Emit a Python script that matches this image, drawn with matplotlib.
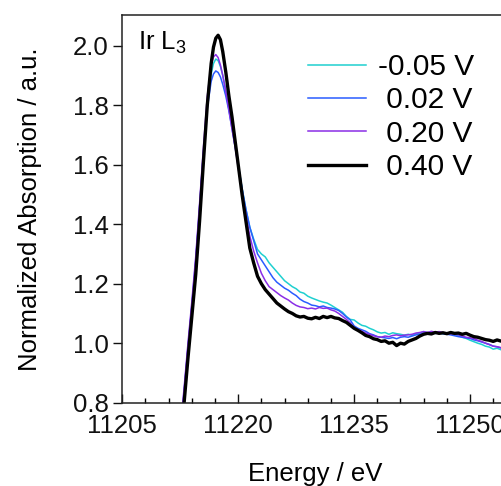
import matplotlib
matplotlib.use("Agg")
import matplotlib.pyplot as plt
from matplotlib.ticker import MultipleLocator, FormatStrFormatter

plt.rcParams['font.family'] = ['Liberation Sans', 'DejaVu Sans']

# ---------------- data ----------------
energy = [11212.5, 11213.0, 11213.5, 11214.0, 11214.5, 11215.0, 11215.5, 11216.0,
          11216.5, 11216.8, 11217.1, 11217.4, 11217.7, 11218.0, 11218.4, 11218.8,
          11219.2, 11219.6,
          11220.0, 11220.5, 11221.0, 11221.5, 11222.0, 11222.5, 11223.0, 11223.5,
          11224.0, 11224.5, 11225.0, 11225.5, 11226.0, 11226.5, 11227.0, 11227.5,
          11228.0, 11228.5, 11229.0, 11229.5, 11230.0, 11230.5, 11231.0, 11231.5,
          11232.0, 11232.5, 11233.0, 11233.5, 11234.0, 11234.5, 11235.0, 11235.5,
          11236.0, 11236.5, 11237.0, 11237.5, 11238.0, 11238.5, 11239.0, 11239.5,
          11240.0, 11240.5, 11241.0, 11241.5, 11242.0, 11242.5, 11243.0, 11243.5,
          11244.0, 11244.5, 11245.0, 11245.5, 11246.0, 11246.5, 11247.0, 11247.5,
          11248.0, 11248.5, 11249.0, 11249.5, 11250.0, 11250.5, 11251.0, 11251.5,
          11252.0, 11252.5, 11253.0, 11253.5, 11254.0, 11254.5]

mu_m005 = [0.69, 0.83, 0.98, 1.12, 1.27, 1.45, 1.64, 1.80,
           1.905, 1.94, 1.955, 1.95, 1.93, 1.90, 1.85, 1.79,
           1.73, 1.67,
           1.60, 1.52, 1.45, 1.39, 1.35, 1.315, 1.30, 1.29,
           1.27, 1.255, 1.24, 1.225, 1.21, 1.20, 1.19, 1.183,
           1.172, 1.168, 1.158, 1.152, 1.147, 1.142, 1.138, 1.135,
           1.128, 1.12, 1.112, 1.104, 1.09, 1.08, 1.078, 1.068,
           1.06, 1.057, 1.05, 1.045, 1.038, 1.034, 1.036, 1.03,
           1.035, 1.032, 1.03, 1.027, 1.03, 1.026, 1.032, 1.034,
           1.039, 1.035, 1.037, 1.033, 1.035, 1.032, 1.03, 1.032,
           1.028, 1.026, 1.02, 1.016, 1.01, 1.005, 1.0, 0.996,
           0.99, 0.987, 0.98, 0.983, 0.978, 0.98]

mu_002 = [0.70, 0.84, 0.99, 1.13, 1.28, 1.46, 1.64, 1.79,
          1.88, 1.905, 1.915, 1.91, 1.895, 1.87, 1.83, 1.78,
          1.72, 1.66,
          1.60, 1.52, 1.45, 1.39, 1.345, 1.30, 1.28, 1.26,
          1.24, 1.22, 1.205, 1.195, 1.185, 1.178, 1.168, 1.16,
          1.148, 1.14, 1.135, 1.128, 1.126, 1.122, 1.125, 1.12,
          1.118, 1.115, 1.11, 1.10, 1.088, 1.078, 1.058, 1.05,
          1.045, 1.04, 1.032, 1.028, 1.022, 1.02, 1.018, 1.016,
          1.019, 1.015, 1.02, 1.022, 1.02, 1.024, 1.028, 1.03,
          1.034, 1.032, 1.035, 1.033, 1.034, 1.032, 1.03, 1.028,
          1.025, 1.022, 1.02, 1.018, 1.016, 1.011, 1.008, 1.004,
          1.0, 0.996, 0.99, 0.988, 0.984, 0.985]

mu_020 = [0.71, 0.85, 1.0, 1.14, 1.29, 1.47, 1.66, 1.83,
          1.935, 1.962, 1.97, 1.96, 1.935, 1.90, 1.845, 1.785,
          1.72, 1.66,
          1.59, 1.51, 1.43, 1.36, 1.31, 1.27, 1.235, 1.21,
          1.19, 1.18, 1.17, 1.16, 1.152, 1.145, 1.135, 1.127,
          1.122, 1.12, 1.116, 1.118, 1.115, 1.12, 1.117, 1.118,
          1.112, 1.108, 1.10, 1.09, 1.08, 1.068, 1.052, 1.045,
          1.04, 1.034, 1.03, 1.025, 1.022, 1.02, 1.024, 1.022,
          1.026, 1.028, 1.025, 1.027, 1.028, 1.03, 1.034, 1.036,
          1.039, 1.036, 1.04, 1.037, 1.039, 1.036, 1.034, 1.032,
          1.03, 1.028, 1.024, 1.02, 1.018, 1.016, 1.01, 1.006,
          1.0, 0.995, 0.99, 0.988, 0.985, 0.986]

mu_040 = [0.66, 0.80, 0.95, 1.09, 1.23, 1.41, 1.61, 1.80,
          1.94, 1.995, 2.025, 2.035, 2.02, 1.98, 1.91, 1.83,
          1.76, 1.68,
          1.60, 1.50, 1.41, 1.32, 1.27, 1.225, 1.20, 1.18,
          1.165, 1.15, 1.135, 1.125, 1.115, 1.106, 1.10, 1.092,
          1.088, 1.09, 1.084, 1.082, 1.087, 1.083, 1.09, 1.086,
          1.09, 1.085, 1.083, 1.076, 1.07, 1.06, 1.05, 1.043,
          1.035, 1.026, 1.022, 1.015, 1.012, 1.006, 1.008, 1.0,
          1.003, 0.992, 1.0, 0.997, 1.006, 1.011, 1.016, 1.024,
          1.03, 1.033, 1.031, 1.036, 1.033, 1.035, 1.032, 1.036,
          1.033, 1.034, 1.03, 1.033, 1.027, 1.022, 1.02, 1.016,
          1.012, 1.01, 1.006, 1.011, 1.007, 1.008]

labels = ["-0.05 V", " 0.02 V", " 0.20 V", " 0.40 V"]
series = [mu_m005, mu_002, mu_020, mu_040]
colors = ["#1fd0d0", "#2a5cff", "#8a2ee6", "#000000"]
widths = [1.1, 1.1, 1.1, 2.4]

xticks_major = 15
xticks_minor = 3
yticks = [0.8, 1.0, 1.2, 1.4, 1.6, 1.8, 2.0]

# ---------------- figure ----------------
fig = plt.figure(figsize=(5.01, 4.86), dpi=100)
ax = fig.add_axes([0.2441, 0.1714, 0.7712, 0.7977])

for y, lab, c, lw in zip(series, labels, colors, widths):
    ax.plot(energy, y, color=c, lw=lw, label=lab)

ax.set_xlim(11205, 11255)
ax.set_ylim(0.8, 2.103)

ax.xaxis.set_major_locator(MultipleLocator(xticks_major))
ax.xaxis.set_minor_locator(MultipleLocator(xticks_minor))
ax.set_yticks(yticks)
ax.yaxis.set_major_formatter(FormatStrFormatter('%.1f'))

for s in ax.spines.values():
    s.set_linewidth(1.1)
    s.set_color('#222222')

ax.tick_params(axis='y', which='major', direction='out', length=6.5, width=1.0,
               pad=3.5, labelsize=18.5, colors='#111111')
ax.tick_params(axis='x', which='major', direction='in', length=6.5, width=1.0,
               pad=8, labelsize=18.5, colors='#111111')
ax.tick_params(axis='x', which='minor', direction='in', length=3.5, width=1.0)
ax.tick_params(top=False, right=False, which='both')

ax.set_xlabel("Energy / eV", fontsize=18.5, labelpad=17.5)
ax.set_ylabel("Normalized Absorption / a.u.", fontsize=18.5, labelpad=22)

fig.text(138 / 501, 1 - 50 / 486, r"Ir L$_\mathregular{3}$", fontsize=18.5,
         ha='left', va='baseline')

leg = ax.legend(loc='upper left', bbox_to_anchor=(308 / 501, 1 - 53 / 486),
                bbox_transform=fig.transFigure, frameon=False, fontsize=21.5,
                handlelength=1.95, handletextpad=0.4, labelspacing=0.18,
                borderpad=0, borderaxespad=0)

fig.savefig("out.png", dpi=100)
